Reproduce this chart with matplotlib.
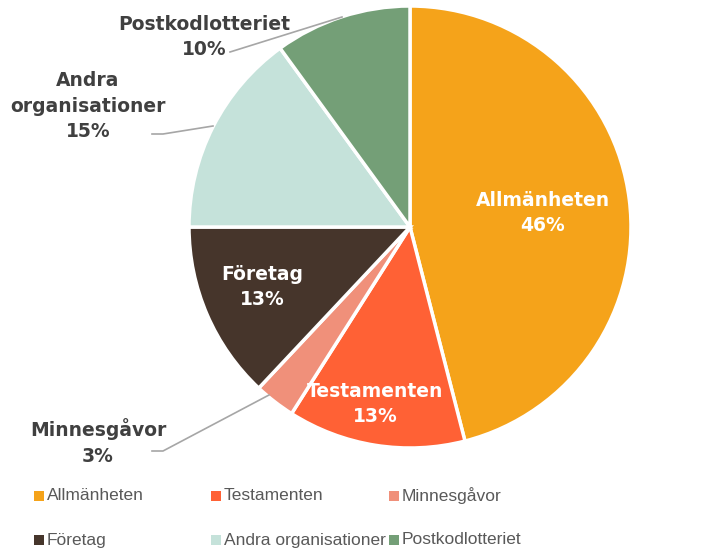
import matplotlib.pyplot as plt
from matplotlib.patches import Rectangle

labels = ['Allmänheten', 'Testamenten', 'Minnesgåvor', 'Företag',
          'Andra organisationer', 'Postkodlotteriet']
values = [46, 13, 3, 13, 15, 10]
colors = ['#F5A31A', '#FF6135', '#F0907A', '#46352B', '#C5E2DA', '#749F77']

W, H = 728, 555
fig = plt.figure(figsize=(W / 100, H / 100), dpi=100)

# pie centre and radius in pixels
cx, cy, r = 410, 227, 221
ax = fig.add_axes([(cx - r) / W, (H - cy - r) / H, 2 * r / W, 2 * r / H])
ax.pie(values, colors=colors, startangle=90, counterclock=False,
       radius=1, wedgeprops=dict(edgecolor='white', linewidth=2.5))
ax.set_xlim(-1, 1)
ax.set_ylim(-1, 1)
ax.set_aspect('equal')
ax.axis('off')


def px(x, y):
    return ((x - cx) / r, (cy - y) / r)


dark = '#404040'
fs = 13.5
ls = 1.45
# inside labels
inside = {0: (543, 213), 1: (375, 404), 3: (262, 287)}
for i, (x, y) in inside.items():
    ax.text(*px(x, y), f'{labels[i]}\n{values[i]}%', ha='center', va='center',
            color='white', fontsize=fs, fontweight='bold', linespacing=ls)

# outside labels with leader lines
ax.text(*px(204, 37), f'{labels[5]}\n{values[5]}%', ha='center', va='center',
        color=dark, fontsize=fs, fontweight='bold', linespacing=ls, clip_on=False)
ax.plot(*zip(px(342, 17), px(230, 52)), color='#A6A6A6', lw=1.2, clip_on=False)

ax.text(*px(88, 106), 'Andra\norganisationer\n' + f'{values[4]}%', ha='center',
        va='center', color=dark, fontsize=fs, fontweight='bold', linespacing=ls,
        clip_on=False)
ax.plot(*zip(px(213, 126), px(163, 134), px(152, 134)), color='#A6A6A6', lw=1.2,
        clip_on=False)

ax.text(*px(98, 442), f'{labels[2]}\n{values[2]}%', ha='center', va='center',
        color=dark, fontsize=fs, fontweight='bold', linespacing=ls, clip_on=False)
ax.plot(*zip(px(269, 395), px(163, 451), px(152, 451)), color='#A6A6A6', lw=1.2,
        clip_on=False)

# legend, drawn row-wise like the original
col_x = [34, 211, 389]
row_y = [496, 540]
for i, (lab, col) in enumerate(zip(labels, colors)):
    x = col_x[i % 3]
    y = row_y[i // 3]
    s = 10
    fig.patches.append(Rectangle((x / W, (H - y - s / 2) / H), s / W, s / H,
                                 facecolor=col, transform=fig.transFigure))
    fig.text((x + 13) / W, (H - y) / H, lab, ha='left', va='center',
             fontsize=12.5, color='#595959', fontfamily='Liberation Sans')

fig.savefig('out.png', dpi=100)
